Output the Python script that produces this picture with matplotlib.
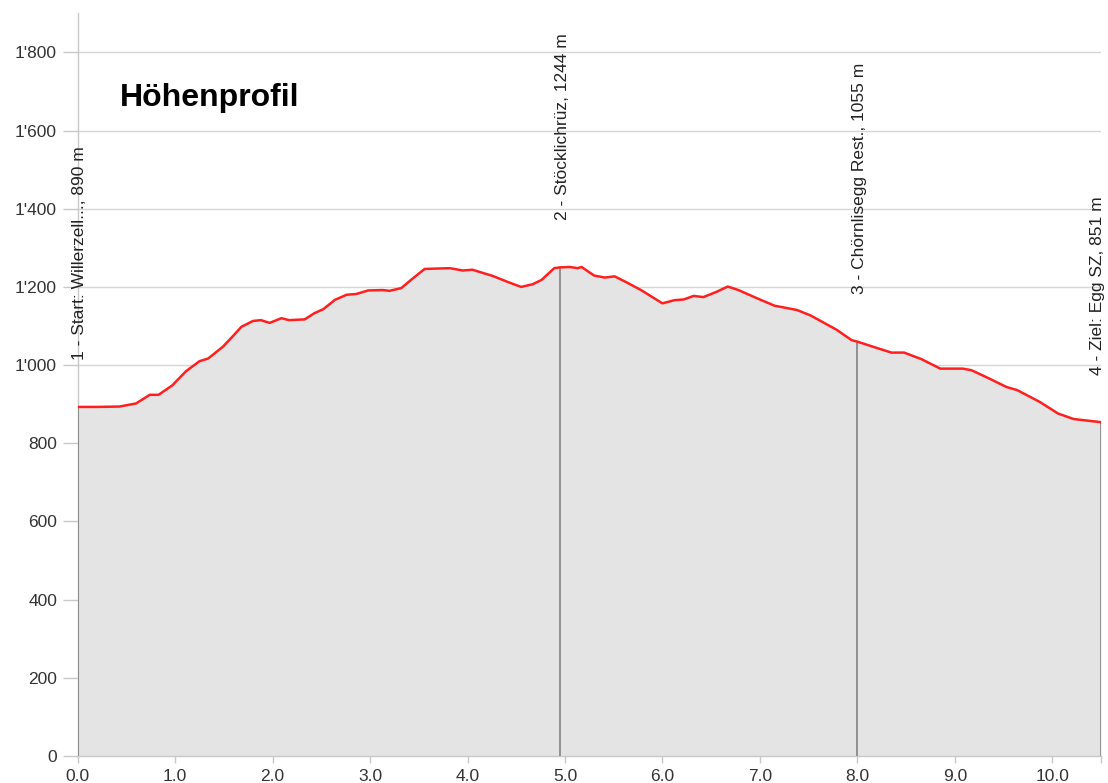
import matplotlib
matplotlib.use("Agg")
import matplotlib.pyplot as plt
import matplotlib.ticker as mticker
import numpy as np

# Höhenprofil: Distanz in km, Höhe in m
km = [0.00, 0.20, 0.43, 0.60, 0.74, 0.83, 0.97, 1.11, 1.25, 1.34, 1.49, 1.60,
      1.68, 1.80, 1.88, 1.97, 2.09, 2.17, 2.33, 2.43, 2.52, 2.64, 2.76, 2.86,
      2.98, 3.13, 3.20, 3.32, 3.44, 3.56, 3.82, 3.95, 4.05, 4.26, 4.40, 4.55,
      4.67, 4.76, 4.89, 4.95, 5.05, 5.13, 5.17, 5.30, 5.41, 5.51, 5.63, 5.78,
      6.00, 6.12, 6.22, 6.32, 6.42, 6.56, 6.67, 6.78, 6.97, 7.15, 7.38, 7.52,
      7.79, 7.94, 8.00, 8.16, 8.35, 8.48, 8.66, 8.85, 9.08, 9.17, 9.35, 9.53,
      9.64, 9.87, 10.06, 10.22, 10.50]
hoehe = [893, 893, 894, 902, 924, 924, 948, 984, 1010, 1017, 1047, 1076,
         1098, 1113, 1115, 1108, 1120, 1115, 1117, 1133, 1143, 1167, 1180, 1182,
         1191, 1192, 1190, 1197, 1222, 1246, 1248, 1242, 1244, 1228, 1214, 1200,
         1207, 1218, 1248, 1250, 1251, 1248, 1251, 1229, 1224, 1227, 1212, 1192,
         1158, 1166, 1168, 1177, 1174, 1188, 1201, 1192, 1171, 1152, 1141, 1127,
         1090, 1064, 1060, 1047, 1032, 1032, 1015, 991, 991, 987, 966, 944,
         936, 906, 876, 862, 854]

# Wegpunkte
wp_km = [0.0, 4.95, 8.0, 10.5]
wp_namen = ["1 - Start: Willerzell..., 890 m",
            "2 - Stöcklichrüz, 1244 m",
            "3 - Chörnlisegg Rest., 1055 m",
            "4 - Ziel: Egg SZ, 851 m"]

x_ticks = [0, 1, 2, 3, 4, 5, 6, 7, 8, 9, 10]
y_ticks = [0, 200, 400, 600, 800, 1000, 1200, 1400, 1600, 1800]

plt.rcParams['font.family'] = ['Liberation Sans', 'DejaVu Sans']

fig = plt.figure(figsize=(11.08, 7.83), dpi=100)
ax = fig.add_axes([0.0701, 0.0345, 0.9236, 0.9485])

ax.fill_between(km, hoehe, 0, color='#e4e4e4', lw=0, zorder=1)
ax.plot(km, hoehe, color='#ff1f1f', lw=1.8, zorder=4)

# senkrechte Linien + Beschriftung der Wegpunkte
wp_hoehe = np.interp(wp_km, km, hoehe)
for i, (xk, h, name) in enumerate(zip(wp_km, wp_hoehe, wp_namen)):
    ax.plot([xk, xk], [0, h], color='#7a7a7a', lw=1.1, zorder=3)
    dx = 1.5 if i < len(wp_km) - 1 else -2.5  # letzte Beschriftung nicht abschneiden
    ax.annotate(name, xy=(xk, h), xytext=(dx, 34), textcoords='offset points',
                rotation=90, ha='center', va='bottom', fontsize=12.5,
                color='#222222', annotation_clip=False, zorder=5)

ax.set_xlim(0, 10.5)
ax.set_ylim(0, 1900)

ax.set_xticks(x_ticks)
ax.set_xticks([10.5], minor=True)
ax.set_yticks(y_ticks)
ax.xaxis.set_major_formatter(mticker.FuncFormatter(lambda v, p: f"{v:.1f}"))
ax.yaxis.set_major_formatter(mticker.FuncFormatter(
    lambda v, p: f"{int(v):,}".replace(",", "'")))

ax.grid(axis='y', color='#d6d6d6', lw=1.0, zorder=0)
ax.set_axisbelow(True)

for s in ['top', 'right']:
    ax.spines[s].set_visible(False)
for s in ['left', 'bottom']:
    ax.spines[s].set_color('#c8c8c8')
    ax.spines[s].set_linewidth(1.0)
    ax.spines[s].set_zorder(2)

ax.tick_params(axis='y', length=10.5, width=1, color='#c8c8c8', pad=4.3,
               labelsize=12.5, labelcolor='#333333')
ax.tick_params(axis='x', which='both', length=5, width=1, color='#c8c8c8',
               pad=4.3, labelsize=12.5, labelcolor='#333333')

fig.text(0.1083, 0.8646, "Höhenprofil", fontsize=23, fontweight='bold',
         color='black', ha='left', va='baseline')

plt.savefig("out.png", dpi=100)
